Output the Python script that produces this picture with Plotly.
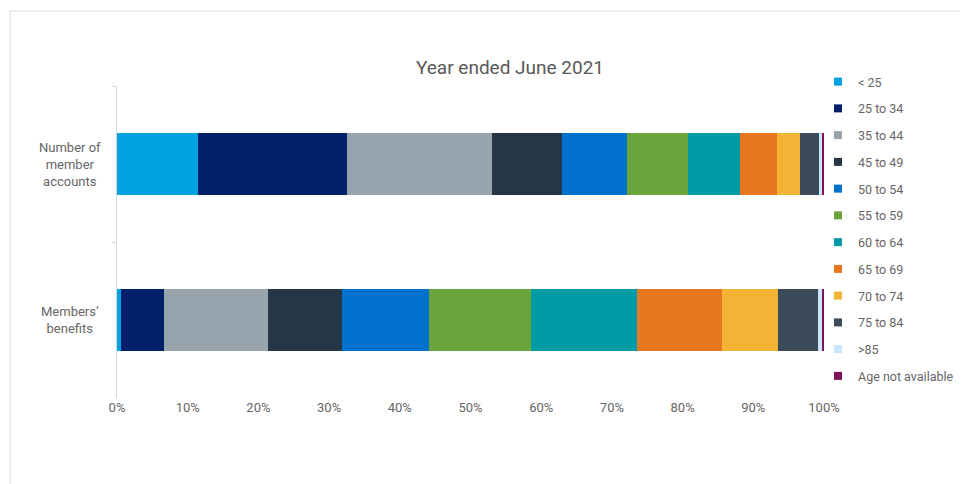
import plotly.graph_objects as go

categories = ["Number of member accounts", "Members’ benefits"]
category_labels = ["Number of<br>member<br>accounts", "Members’<br>benefits"]
age_groups = ["< 25", "25 to 34", "35 to 44", "45 to 49", "50 to 54", "55 to 59",
              "60 to 64", "65 to 69", "70 to 74", "75 to 84", ">85", "Age not available"]
accounts_share = [11.4, 21.1, 20.5, 9.9, 9.3, 8.5, 7.4, 5.2, 3.3, 2.7, 0.5, 0.2]
benefits_share = [0.55, 6.05, 14.7, 10.5, 12.4, 14.4, 15.0, 12.0, 7.9, 5.6, 0.6, 0.3]
colors = ["#00a3e0", "#002169", "#97a4ae", "#253746", "#0072ce", "#6ba43a",
          "#009ca6", "#e87722", "#f1b434", "#3b4b59", "#c9e8fb", "#84105a"]
x_ticks = [0, 0.1, 0.2, 0.3, 0.4, 0.5, 0.6, 0.7, 0.8, 0.9, 1.0]

FONT = "Roboto, Lato, sans-serif"
TXT = "#666666"

fig = go.Figure()
for i, g in enumerate(age_groups):
    fig.add_trace(go.Bar(
        y=categories,
        x=[accounts_share[i] / 100, benefits_share[i] / 100],
        name=g,
        orientation="h",
        width=0.4,
        marker=dict(color=colors[i], line=dict(width=0)),
        showlegend=False,
        hovertemplate="%{y}<br>" + g + ": %{x:.1%}<extra></extra>",
    ))
    fig.add_trace(go.Scatter(
        x=[None], y=[None], mode="markers", name=g,
        legendgroup=g,
        marker=dict(symbol="square", size=8, color=colors[i]),
        showlegend=True, hoverinfo="skip",
    ))

# page body has an 8px margin, so the figure is 8px smaller on each axis
W, H = 960, 476
L, T = 109, 78
pw, ph = 707, 312
R = W - L - pw
B = H - T - ph

annotations = []
for c, lab in zip(categories, category_labels):
    annotations.append(dict(
        x=(62 - L) / pw, xref="paper", y=c, yref="y",
        text=lab, showarrow=False, xanchor="center", yanchor="middle",
        align="center", font=dict(family=FONT, size=13, color=TXT),
    ))

fig.update_layout(
    width=W, height=H,
    margin=dict(l=L, r=R, t=T, b=B, autoexpand=False),
    paper_bgcolor="white", plot_bgcolor="white",
    barmode="stack",
    title=dict(text="Year ended June 2021", x=(502 - L) / pw, xref="paper",
               xanchor="center", y=1 - 59 / H, yanchor="middle",
               font=dict(family=FONT, size=19, color="#595959")),
    xaxis=dict(range=[0, 1], tickvals=x_ticks, tickformat=".0%",
               showgrid=False, zeroline=False, showline=False, ticks="",
               tickfont=dict(family=FONT, size=13, color=TXT), fixedrange=True),
    yaxis=dict(categoryorder="array", categoryarray=categories,
               range=[1.5, -0.5], showticklabels=False, showgrid=False,
               zeroline=False, showline=True, linecolor="#d9d9d9", linewidth=1,
               ticks="outside", ticklen=4, tickcolor="#d9d9d9", tickson="boundaries"),
    legend=dict(x=(810 - L) / pw, xanchor="left", y=1 + (T - 59) / ph, yanchor="top",
                traceorder="grouped", tracegroupgap=7.5, maxheight=420,
                font=dict(family=FONT, size=12.5, color=TXT),
                bgcolor="rgba(0,0,0,0)", itemclick=False, itemdoubleclick=False),
    annotations=annotations,
    shapes=[dict(type="path", xref="paper", yref="paper",
                 path="M {x0},{y0} L {x0},{y1} L {x2},{y1}".format(
                     x0=(2 - L) / pw, y0=-B / ph,
                     y1=1 + (T - 3) / ph, x2=(W - L) / pw),
                 line=dict(color="#d9d9d9", width=1))],
    showlegend=True,
)

fig.write_html("out.html")
